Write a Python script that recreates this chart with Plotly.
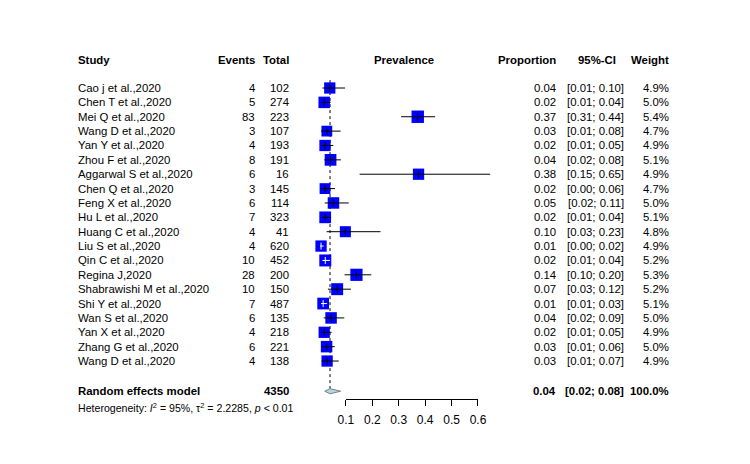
import plotly.graph_objects as go

studies = ["Cao j et al.,2020", "Chen T et al.,2020", "Mei Q et al.,2020", "Wang D et al.,2020",
           "Yan Y et al.,2020", "Zhou F et al.,2020", "Aggarwal S et al.,2020", "Chen Q et al.,2020",
           "Feng X et al.,2020", "Hu L et al.,2020", "Huang C et al.,2020", "Liu S et al.,2020",
           "Qin C et al.,2020", "Regina J,2020", "Shabrawishi M et al.,2020", "Shi Y et al.,2020",
           "Wan S et al.,2020", "Yan X et al.,2020", "Zhang G et al.,2020", "Wang D et al.,2020"]
events = [4, 5, 83, 3, 4, 8, 6, 3, 6, 7, 4, 4, 10, 28, 10, 7, 6, 4, 6, 4]
totals = [102, 274, 223, 107, 193, 191, 16, 145, 114, 323, 41, 620, 452, 200, 150, 487, 135, 218, 221, 138]
proportion = [0.039, 0.018, 0.372, 0.028, 0.021, 0.042, 0.375, 0.021, 0.053, 0.0217, 0.098, 0.006,
              0.0221, 0.14, 0.067, 0.014, 0.044, 0.018, 0.027, 0.029]
ci_low = [0.011, 0.006, 0.309, 0.006, 0.006, 0.018, 0.152, 0.004, 0.020, 0.009, 0.027, 0.002,
          0.011, 0.095, 0.032, 0.006, 0.016, 0.006, 0.010, 0.008]
ci_high = [0.097, 0.042, 0.438, 0.080, 0.052, 0.081, 0.646, 0.059, 0.111, 0.044, 0.231, 0.016,
           0.040, 0.196, 0.119, 0.029, 0.094, 0.046, 0.058, 0.073]
weights = [4.9, 5.0, 5.4, 4.7, 4.9, 5.1, 4.9, 4.7, 5.0, 5.1, 4.8, 4.9, 5.2, 5.3, 5.2, 5.1, 5.0, 4.9, 5.0, 4.9]

pooled_label = "Random effects model"
pooled_total = 4350
pooled_est, pooled_low, pooled_high = 0.04, 0.02, 0.08
pooled_weight = 100.0
heterogeneity = "Heterogeneity: <i>I</i><sup>2</sup> = 95%, τ<sup>2</sup> = 2.2285, <i>p</i> &lt; 0.01"
axis_ticks = [0.1, 0.2, 0.3, 0.4, 0.5, 0.6]

# ---- geometry helpers (target pixels of the 750x464 picture) ----
W, H = 750, 464
PAPER_L = 8.8          # observed left edge of the drawing area
PAPER_W = 732.4        # observed width of the drawing area
PX_PER_UNIT = 264.0
X0_PX = 320.0
ROW0_PX = 88.0
ROW_PX = 14.37
rows = list(range(len(studies)))
pooled_row = 21.1
header_row = -1.95
het_row = 22.2
FONT = "Liberation Sans, Arial, sans-serif"
FS = 11.4

def px(xp):
    return (xp - PAPER_L) / PAPER_W

box_scale = 2.3
box_sizes = [w * box_scale for w in weights]

fig = go.Figure()

fig.add_trace(go.Scatter(x=[pooled_est, pooled_est], y=[-0.55, pooled_row - 0.2], mode="lines",
                         line=dict(color="black", width=1, dash="dot"), hoverinfo="skip", showlegend=False))

fig.add_trace(go.Scatter(x=proportion, y=rows, mode="markers",
                         marker=dict(symbol="square", size=box_sizes, color="#0000FF", opacity=1,
                                     line=dict(width=0)),
                         hoverinfo="skip", showlegend=False))

bx, by, wx, wy = [], [], [], []
bcx, bcy, wcx, wcy = [], [], [], []
for i in rows:
    half = box_sizes[i] / 2.0 / PX_PER_UNIT
    inside = ci_low[i] >= proportion[i] - half and ci_high[i] <= proportion[i] + half
    if inside:
        wx += [ci_low[i], ci_high[i], None]; wy += [i, i, None]
        wcx.append(proportion[i]); wcy.append(i)
    else:
        bx += [ci_low[i], ci_high[i], None]; by += [i, i, None]
        bcx.append(proportion[i]); bcy.append(i)
fig.add_trace(go.Scatter(x=bx, y=by, mode="lines", line=dict(color="black", width=1),
                         hoverinfo="skip", showlegend=False))
fig.add_trace(go.Scatter(x=wx, y=wy, mode="lines", line=dict(color="white", width=1),
                         hoverinfo="skip", showlegend=False))
fig.add_trace(go.Scatter(x=bcx, y=bcy, mode="markers",
                         marker=dict(symbol="line-ns", size=5, opacity=1, line=dict(color="black", width=1)),
                         hoverinfo="skip", showlegend=False))
fig.add_trace(go.Scatter(x=wcx, y=wcy, mode="markers",
                         marker=dict(symbol="line-ns", size=5, opacity=1, line=dict(color="white", width=1)),
                         hoverinfo="skip", showlegend=False))

dh = 0.18
fig.add_trace(go.Scatter(x=[pooled_low, pooled_est, pooled_high, pooled_est, pooled_low],
                         y=[pooled_row, pooled_row - dh, pooled_row, pooled_row + dh, pooled_row],
                         mode="lines", fill="toself", fillcolor="#ADD8E6",
                         line=dict(color="#808080", width=1), hoverinfo="skip", showlegend=False))

fig.add_trace(go.Scatter(x=[axis_ticks[0], axis_ticks[-1]], y=[pooled_row, pooled_row], xaxis="x2",
                         mode="markers", marker=dict(opacity=0), hoverinfo="skip", showlegend=False))

ann = []
def txt(x_px, row, text, anchor, bold=False, size=FS):
    if bold:
        text = "<b>" + text + "</b>"
    ann.append(dict(x=px(x_px), xref="paper", y=row, yref="y", text=text, showarrow=False,
                    xanchor=anchor, yanchor="middle", font=dict(family=FONT, size=size, color="black"),
                    borderpad=0))

txt(78, header_row, "Study", "left", True)
txt(257, header_row, "Events", "right", True)
txt(291, header_row, "Total", "right", True)
txt(404, header_row, "Prevalence", "center", True)
txt(557, header_row, "Proportion", "right", True)
txt(597, header_row, "95%-CI", "center", True)
txt(670, header_row, "Weight", "right", True)

for i in rows:
    txt(78, i, studies[i], "left")
    txt(257, i, str(events[i]), "right")
    txt(291, i, str(totals[i]), "right")
    txt(557, i, f"{proportion[i]:.2f}", "right")
    txt(625, i, f"[{ci_low[i]:.2f}; {ci_high[i]:.2f}]", "right")
    txt(670, i, f"{weights[i]:.1f}%", "right")

txt(78, pooled_row, pooled_label, "left", True)
txt(291, pooled_row, str(pooled_total), "right", True)
txt(557, pooled_row, f"{pooled_est:.2f}", "right", True)
txt(625, pooled_row, f"[{pooled_low:.2f}; {pooled_high:.2f}]", "right", True)
txt(670, pooled_row, f"{pooled_weight:.1f}%", "right", True)
txt(78, het_row, heterogeneity, "left", size=10.6)

y_top = -ROW0_PX / ROW_PX
y_bot = (H - ROW0_PX) / ROW_PX

fig.update_layout(
    width=W, height=H, margin=dict(l=0, r=0, t=0, b=0, pad=0),
    paper_bgcolor="white", plot_bgcolor="rgba(0,0,0,0)",
    font=dict(family=FONT, size=12, color="black"),
    xaxis=dict(domain=[0, 1],
               range=[(PAPER_L - X0_PX) / PX_PER_UNIT, (PAPER_L + PAPER_W - X0_PX) / PX_PER_UNIT],
               visible=False, fixedrange=True),
    xaxis2=dict(domain=[px(X0_PX + axis_ticks[0] * PX_PER_UNIT), px(X0_PX + axis_ticks[-1] * PX_PER_UNIT)],
                range=[axis_ticks[0], axis_ticks[-1]], anchor="free", position=1 - 398.5 / H,
                showline=True, linecolor="black", linewidth=1, ticks="outside", ticklen=6,
                tickwidth=1, tickcolor="black", tickvals=axis_ticks, ticklabelstandoff=4,
                ticktext=[f"{t:.1f}" for t in axis_ticks], showgrid=False, zeroline=False,
                fixedrange=True, tickfont=dict(family=FONT, size=12, color="black")),
    yaxis=dict(domain=[0, 1], range=[y_bot, y_top], visible=False, fixedrange=True),
    annotations=ann,
)

fig.write_html("out.html", config={"displayModeBar": False},
               post_script="document.documentElement.style.margin='0';document.body.style.margin='0';"
                           "document.body.style.padding='0';document.body.style.overflow='hidden';"
                           "document.documentElement.style.overflow='hidden';")
